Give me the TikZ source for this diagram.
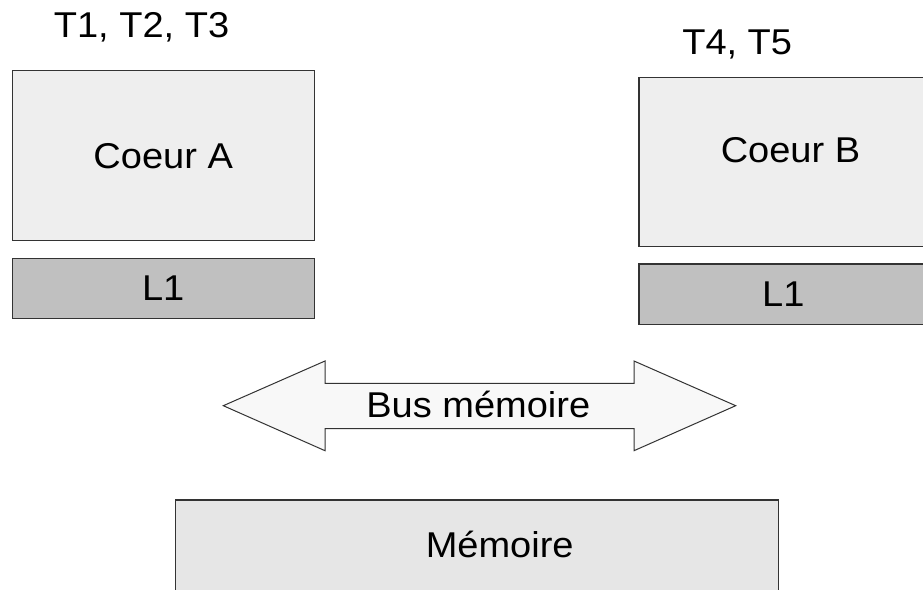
\documentclass[tikz,border=0pt]{standalone}
\usepackage{fontspec}
\setmainfont[FakeStretch=1.06]{Liberation Sans}
\definecolor{coeurfill}{HTML}{EEEEEE}
\definecolor{cachefill}{HTML}{C0C0C0}
\definecolor{busfill}{HTML}{F8F8F8}
\definecolor{memfill}{HTML}{E6E6E6}
\definecolor{edge}{HTML}{333333}
\tikzset{
  box/.style={draw=edge, line width=1.1bp, inner sep=0pt, outer sep=0pt},
  coeurbox/.style={box, fill=coeurfill},
  cachebox/.style={box, fill=cachefill},
  membox/.style={box, fill=memfill},
  lbl/.style={inner sep=0pt, font=\fontsize{36}{40}\selectfont, anchor=base},
}
\begin{document}
\begin{tikzpicture}[x=1bp, y=-1bp]
\useasboundingbox (0,0) rectangle (923,590);
\clip (0,0) rectangle (923,590);
\fill[white] (0,0) rectangle (923,590);

% Coeur A
\node[coeurbox, minimum width=301.7bp, minimum height=169.3bp] (coeurA) at (163.2,155.4) {};
\node[lbl] (coeurAtxt) at (163.2,168.3) {Coeur A};
\node[cachebox, minimum width=301.7bp, minimum height=59.7bp] (l1A) at (163.2,288.2) {};
\node[lbl] (l1Atxt) at (163.2,300) {L1};
\node[lbl] (tA) at (141.5,37.3) {T1, T2, T3};

% Coeur B
\node[coeurbox, minimum width=303bp, minimum height=168.7bp] (coeurB) at (790.5,161.7) {};
\node[lbl] (coeurBtxt) at (790.5,162.7) {Coeur B};
\node[cachebox, minimum width=303bp, minimum height=60.3bp] (l1B) at (790.5,294.2) {};
\node[lbl] (l1Btxt) at (783.3,306.5) {L1};
\node[lbl] (tB) at (737.2,54.3) {T4, T5};

% Bus
\filldraw[fill=busfill, draw=edge, line width=1bp, line join=miter]
  (223.3,405.7) -- (325,361) -- (325,383.3) -- (634,383.3) -- (634,361)
  -- (735.7,405.7) -- (634,450.7) -- (634,428.7) -- (325,428.7) -- (325,450.7) -- cycle;
\node[lbl] (bus) at (478.3,417.3) {Bus mémoire};

% Memoire
\node[membox, minimum width=602.7bp, minimum height=91bp] (mem) at (476.7,545.5) {};
\node[lbl] (memtxt) at (499.7,557.3) {Mémoire};
\end{tikzpicture}
\end{document}
